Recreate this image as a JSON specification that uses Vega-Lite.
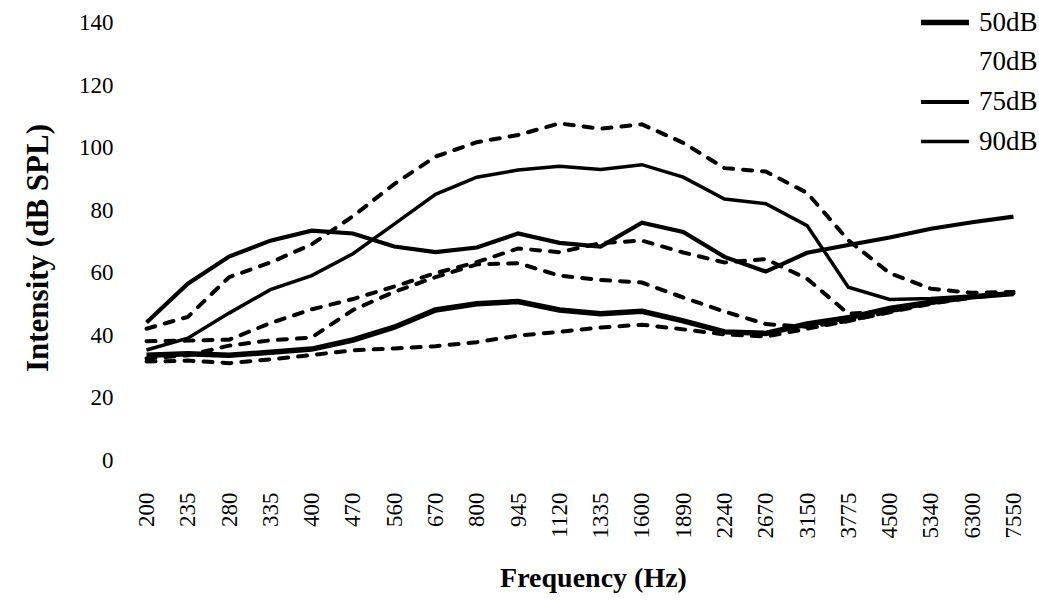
{
  "$schema": "https://vega.github.io/schema/vega-lite/v6.json",
  "width": 900,
  "height": 437.5,
  "autosize": "none",
  "padding": {"left": 130, "top": 22.5, "right": 9, "bottom": 147},
  "background": "white",
  "config": {
    "view": {"stroke": null},
    "font": "Liberation Serif",
    "axis": {"labelColor": "black", "titleColor": "black", "domain": false, "ticks": false, "grid": false}
  },
  "data": {
    "values": [
      {"freq": "200", "90dB": 35.2, "75dB": 44, "50dB": 33.5, "d1": 42, "d2": 38, "d3": 32.5, "d4": 31.5},
      {"freq": "235", "90dB": 39, "75dB": 56.4, "50dB": 34, "d1": 45.8, "d2": 38.2, "d3": 33.5, "d4": 31.8},
      {"freq": "280", "90dB": 47, "75dB": 65.1, "50dB": 33.5, "d1": 58.5, "d2": 38.5, "d3": 36.6, "d4": 31},
      {"freq": "335", "90dB": 54.5, "75dB": 70.2, "50dB": 34.5, "d1": 63.2, "d2": 43.8, "d3": 38.3, "d4": 32.2},
      {"freq": "400", "90dB": 59, "75dB": 73.4, "50dB": 35.5, "d1": 69, "d2": 48.2, "d3": 39.2, "d4": 33.6},
      {"freq": "470", "90dB": 66, "75dB": 72.5, "50dB": 38.4, "d1": 78, "d2": 51.5, "d3": 48, "d4": 35.1},
      {"freq": "560", "90dB": 75.5, "75dB": 68.3, "50dB": 42.5, "d1": 88.3, "d2": 55.5, "d3": 53.8, "d4": 35.7},
      {"freq": "670", "90dB": 85, "75dB": 66.5, "50dB": 48, "d1": 97.1, "d2": 59.8, "d3": 58.5, "d4": 36.4},
      {"freq": "800", "90dB": 90.5, "75dB": 68, "50dB": 50, "d1": 101.7, "d2": 63.3, "d3": 62.6, "d4": 37.7},
      {"freq": "945", "90dB": 92.8, "75dB": 72.5, "50dB": 50.7, "d1": 104, "d2": 67.7, "d3": 63, "d4": 39.8},
      {"freq": "1120", "90dB": 94, "75dB": 69.5, "50dB": 48, "d1": 107.7, "d2": 66.5, "d3": 59, "d4": 41},
      {"freq": "1335", "90dB": 93, "75dB": 68.3, "50dB": 46.8, "d1": 106, "d2": 69.4, "d3": 57.6, "d4": 42.4},
      {"freq": "1600", "90dB": 94.5, "75dB": 75.9, "50dB": 47.6, "d1": 107.4, "d2": 70.2, "d3": 56.8, "d4": 43.3},
      {"freq": "1890", "90dB": 90.5, "75dB": 73, "50dB": 44.5, "d1": 101.5, "d2": 66.4, "d3": 52, "d4": 41.8},
      {"freq": "2240", "90dB": 83.5, "75dB": 65, "50dB": 41, "d1": 93.4, "d2": 63.2, "d3": 47.5, "d4": 40.2},
      {"freq": "2670", "90dB": 82, "75dB": 60.3, "50dB": 40.5, "d1": 92.3, "d2": 64.3, "d3": 43.5, "d4": 39.5},
      {"freq": "3150", "90dB": 75, "75dB": 66.3, "50dB": 43.5, "d1": 85.5, "d2": 58, "d3": 42.6, "d4": 42},
      {"freq": "3775", "90dB": 55.3, "75dB": 68.8, "50dB": 45.5, "d1": 70.3, "d2": 46.8, "d3": 44.5, "d4": 44.5},
      {"freq": "4500", "90dB": 51.4, "75dB": 71.2, "50dB": 48.5, "d1": 59.8, "d2": 47.6, "d3": 47.5, "d4": 47.3},
      {"freq": "5340", "90dB": 51.7, "75dB": 74, "50dB": 50.5, "d1": 54.8, "d2": 50.3, "d3": 50.3, "d4": 50},
      {"freq": "6300", "90dB": 52.5, "75dB": 76.1, "50dB": 52.2, "d1": 53.5, "d2": 52.3, "d3": 52.3, "d4": 52},
      {"freq": "7550", "90dB": 53.3, "75dB": 77.9, "50dB": 53.3, "d1": 53.8, "d2": 53.3, "d3": 53.3, "d4": 53.3}
    ]
  },
  "encoding": {
    "x": {
      "field": "freq",
      "type": "ordinal",
      "scale": {
        "type": "point",
        "padding": 0.4,
        "domain": ["200", "235", "280", "335", "400", "470", "560", "670", "800", "945", "1120", "1335", "1600", "1890", "2240", "2670", "3150", "3775", "4500", "5340", "6300", "7550"]
      },
      "axis": {
        "title": "Frequency (Hz)",
        "labelAngle": -90,
        "labelFontSize": 23,
        "labelPadding": 32,
        "titleFontSize": 28,
        "titleFontWeight": "bold",
        "titleX": 463,
        "titleY": 118,
        "titleBaseline": "middle"
      }
    },
    "y": {
      "field": "v",
      "type": "quantitative",
      "scale": {"domain": [0, 140], "nice": false},
      "axis": {
        "title": "Intensity (dB SPL)",
        "values": [0, 20, 40, 60, 80, 100, 120, 140],
        "labelFontSize": 23,
        "labelPadding": 17,
        "titleFontSize": 31,
        "titleFontWeight": "bold",
        "titlePadding": 24,
        "titleY": 225
      }
    }
  },
  "layer": [
    {
      "transform": [{"fold": ["d1", "d2", "d3", "d4"], "as": ["curve", "v"]}],
      "mark": {"type": "line", "color": "black", "strokeWidth": 4, "strokeDash": [9, 10], "strokeCap": "round"},
      "encoding": {"detail": {"field": "curve", "type": "nominal"}}
    },
    {
      "transform": [{"fold": ["90dB", "75dB", "50dB"], "as": ["level", "v"]}],
      "mark": {"type": "line"},
      "encoding": {
        "color": {
          "field": "level",
          "type": "nominal",
          "scale": {"domain": ["50dB", "70dB", "75dB", "90dB"], "range": ["black", "white", "black", "black"]},
          "legend": {
            "title": null,
            "orient": "none",
            "legendX": 788,
            "legendY": -27,
            "padding": 0,
            "symbolType": "stroke",
            "symbolSize": 2304,
            "labelFontSize": 27,
            "labelColor": "black",
            "labelOffset": 7,
            "rowPadding": 0
          }
        },
        "strokeWidth": {
          "field": "level",
          "type": "nominal",
          "scale": {"domain": ["50dB", "70dB", "75dB", "90dB"], "range": [5.5, 3.5, 3.5, 4]},
          "legend": {
            "title": null,
            "orient": "none",
            "legendX": 788,
            "legendY": -27,
            "padding": 0,
            "symbolType": "stroke",
            "symbolSize": 2304,
            "labelFontSize": 27,
            "labelColor": "black",
            "labelOffset": 7,
            "rowPadding": 0
          }
        }
      }
    }
  ]
}
